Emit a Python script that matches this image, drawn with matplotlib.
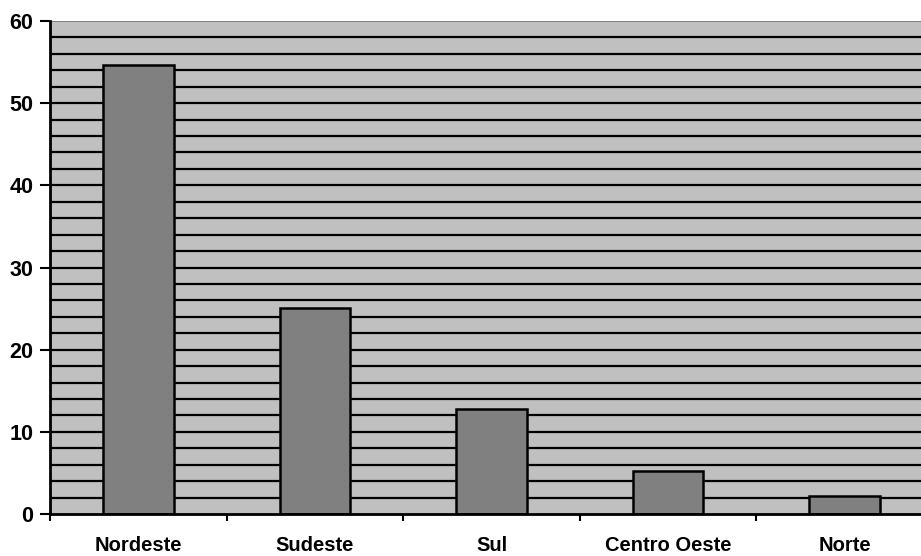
import matplotlib
matplotlib.use("Agg")
import matplotlib.pyplot as plt
import numpy as np

categories = ["Nordeste", "Sudeste", "Sul", "Centro Oeste", "Norte"]
values = [54.6, 25.1, 12.8, 5.2, 2.2]
yticks = [0, 10, 20, 30, 40, 50, 60]

plt.rcParams['font.family'] = ['Liberation Sans', 'DejaVu Sans']

fig = plt.figure(figsize=(9.21, 5.56), dpi=100)
W, H = 921, 556
left, right, top, bottom = 50, 933, 21, 514
ax = fig.add_axes([left / W, (H - bottom) / H, (right - left) / W, (bottom - top) / H])
ax.set_facecolor('#C0C0C0')

x = np.arange(len(categories))
ax.set_xlim(-0.5, len(categories) - 0.5)
ax.set_ylim(0, 60)

# gridlines every 2 units
for g in np.arange(2, 60, 2):
    ax.axhline(g, color='black', lw=1.6, zorder=1)
ax.axhline(60, color='#808080', lw=1.5, zorder=1)

ax.bar(x, values, width=0.4, color='#808080', edgecolor='black', linewidth=1.8, zorder=3)

for s in ['top', 'right']:
    ax.spines[s].set_visible(False)
ax.spines['left'].set_linewidth(2)
ax.spines['bottom'].set_linewidth(2)
ax.spines['left'].set_zorder(5)
ax.spines['bottom'].set_zorder(5)

ax.set_yticks(yticks)
ax.set_yticklabels([str(t) for t in yticks], fontsize=15.5, fontweight='bold')
ax.tick_params(axis='y', length=7, width=1.5, pad=5)

ax.set_xticks(np.arange(len(categories) + 1) - 0.5, minor=False)
ax.set_xticklabels([])
ax.tick_params(axis='x', which='major', length=5, width=1.5)
ax.set_xticks(x, minor=True)
ax.set_xticklabels(categories, minor=True, fontsize=14.5, fontweight='bold')
ax.tick_params(axis='x', which='minor', length=0, pad=16)

fig.savefig('out.png', dpi=100)
